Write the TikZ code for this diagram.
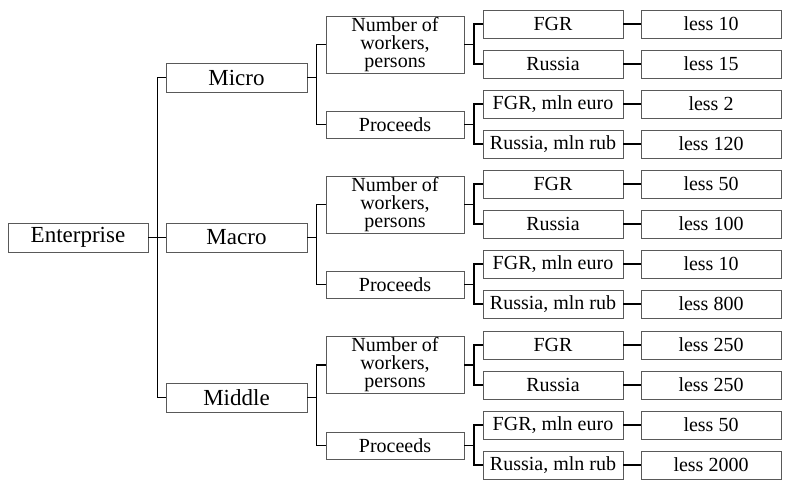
\documentclass[tikz,border=0pt]{standalone}
\usepackage{fontspec}
\setmainfont{Liberation Serif}
\begin{document}
\begin{tikzpicture}[x=1pt,y=-1pt,
  box/.style={draw=black!65,line width=0.9pt,inner sep=0pt,align=center,
    font=\fontsize{20}{18}\selectfont,minimum height=28pt},
  topbox/.style={box,font=\fontsize{23}{26}\selectfont,minimum width=141pt,minimum height=29pt},
  midbox/.style={box,minimum width=138pt},
  leafbox/.style={box,minimum width=140pt},
  link/.style={draw=black,line width=1.8pt}]
\useasboundingbox (0,0) rectangle (785,483);
\node[topbox,minimum width=140pt] (ent) at (78,237.5) {Enterprise};
\foreach \g/\lab/\ly/\ny/\py/\ty/\va/\vb/\vc/\vd in {
  1/Micro/77.5/44.5/124.5/24/10/15/2/120,
  2/Macro/237.5/204.5/284.5/184/50/100/10/800,
  3/Middle/397.5/365/445.5/345/250/250/50/2000}{
  \node[topbox] (l\g) at (236.5,\ly) {\lab};
  \node[midbox,minimum height=57pt] (n\g) at (395,\ny) {Number of\\workers,\\persons};
  \node[midbox,minimum height=27pt] (p\g) at (395,\py) {Proceeds};
  \node[leafbox] (a\g) at (553,\ty) {FGR};
  \node[leafbox] (b\g) at (553,\ty+40) {Russia};
  \node[leafbox] (c\g) at (553,\ty+80) {FGR, mln euro};
  \node[leafbox] (d\g) at (553,\ty+120) {Russia, mln rub};
  \node[leafbox] (ra\g) at (711,\ty) {less \va};
  \node[leafbox] (rb\g) at (711,\ty+40) {less \vb};
  \node[leafbox] (rc\g) at (711,\ty+80) {less \vc};
  \node[leafbox] (rd\g) at (711,\ty+120) {less \vd};
  \draw[link] (ent.east) -- ++(9,0) |- (l\g.west);
  \draw[link] (l\g.east) -- ++(9,0) |- (n\g.west);
  \draw[link] (l\g.east) -- ++(9,0) |- (p\g.west);
  \draw[link] (n\g.east) -- ++(9.5,0) |- (a\g.west);
  \draw[link] (n\g.east) -- ++(9.5,0) |- (b\g.west);
  \draw[link] (p\g.east) -- ++(9.5,0) |- (c\g.west);
  \draw[link] (p\g.east) -- ++(9.5,0) |- (d\g.west);
  \draw[link] (a\g.east) -- (ra\g.west);
  \draw[link] (b\g.east) -- (rb\g.west);
  \draw[link] (c\g.east) -- (rc\g.west);
  \draw[link] (d\g.east) -- (rd\g.west);
}
\end{tikzpicture}
\end{document}
